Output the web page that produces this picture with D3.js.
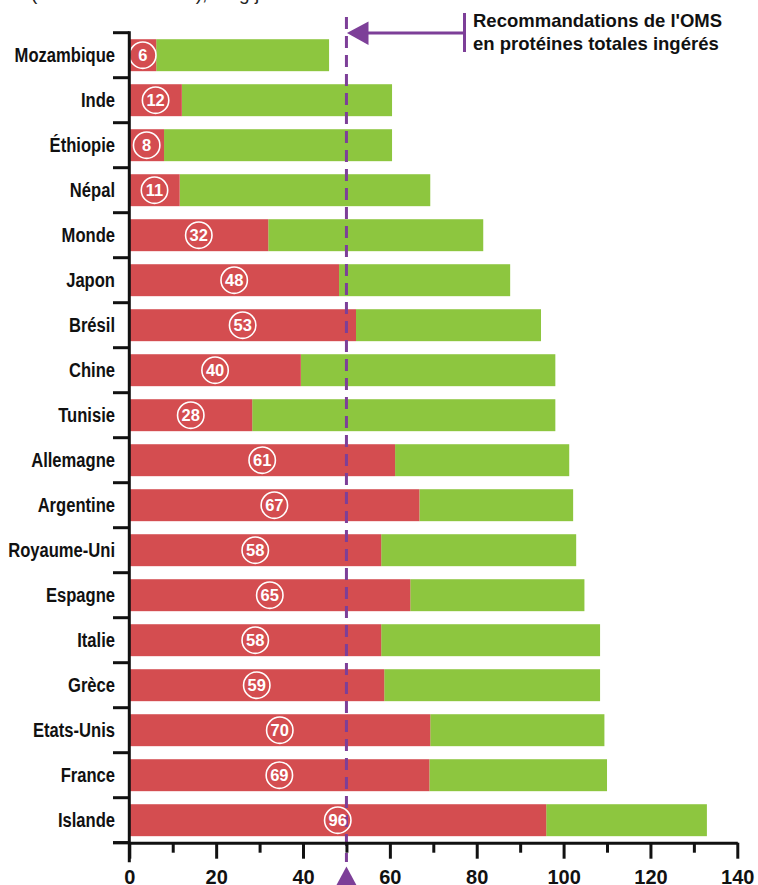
<!DOCTYPE html>
<html>
<head>
<meta charset="utf-8">
<script src="https://cdn.jsdelivr.net/npm/d3@7"></script>
<style>
  html, body { margin: 0; padding: 0; background: #ffffff; }
  svg { display: block; overflow: hidden; }
</style>
</head>
<body>
<svg id="chart" width="758" height="885"></svg>
<script>
const categories = ["Mozambique","Inde","Éthiopie","Népal","Monde","Japon","Brésil","Chine","Tunisie","Allemagne","Argentine","Royaume-Uni","Espagne","Italie","Grèce","Etats-Unis","France","Islande"];
const animalValues = [6.2, 12.1, 8, 11.6, 32, 48.3, 52.2, 39.5, 28.3, 61.2, 66.8, 58, 64.7, 58, 58.7, 69.3, 69.1, 96];
const animalLabels = [6, 12, 8, 11, 32, 48, 53, 40, 28, 61, 67, 58, 65, 58, 59, 70, 69, 96];
const totalValues = [46, 60.5, 60.5, 69.3, 81.5, 87.7, 94.8, 98.1, 98.1, 101.3, 102.2, 102.9, 104.8, 108.4, 108.4, 109.4, 110, 133];
const majorTicks = [0, 20, 40, 60, 80, 100, 120, 140];
const minorTicks = [10, 30, 50, 70, 90, 110, 130];
const whoRecommendation = 50;
const annotationLines = ["Recommandations de l'OMS", "en protéines totales ingérés"];
const topText = "(animales et totales), en g/j";

const RED = "#d44d50", GREEN = "#8dc63f", PURPLE = "#7d3f98", INK = "#111111";
const FONT = "'Liberation Sans', Arial, sans-serif";

const svg = d3.select("#chart");

const x = d3.scaleLinear().domain([0, 140]).range([129.3, 737.3]);
const y = d3.scaleBand().domain(categories).range([32.7, 842.7]).paddingInner(0.29).paddingOuter(0.145);
const step = y.step();
const yTop = y.range()[0];
const axisY = y.range()[1];

// top text, cut off by the top edge as in the reference
svg.append("text").attr("x", 31).attr("y", -0.5)
  .attr("font-family", FONT).attr("font-size", 19).attr("fill", "#222")
  .text(topText);

const data = categories.map((c, i) => ({ c, a: animalValues[i], t: totalValues[i], lab: animalLabels[i] }));

// bars
const bars = svg.append("g");
bars.selectAll("rect.green").data(data).join("rect").attr("class", "green")
  .attr("x", d => x(d.a)).attr("y", d => y(d.c))
  .attr("width", d => x(d.t) - x(d.a)).attr("height", y.bandwidth())
  .attr("fill", GREEN);
bars.selectAll("rect.red").data(data).join("rect").attr("class", "red")
  .attr("x", x(0)).attr("y", d => y(d.c))
  .attr("width", d => x(d.a) - x(0)).attr("height", y.bandwidth())
  .attr("fill", RED);

// WHO dashed line
svg.append("line")
  .attr("x1", x(whoRecommendation)).attr("x2", x(whoRecommendation))
  .attr("y1", 17).attr("y2", 862)
  .attr("stroke", PURPLE).attr("stroke-width", 3)
  .attr("stroke-dasharray", "12,7");

// value circles
const lbl = svg.append("g").selectAll("g").data(data).join("g")
  .attr("transform", d => `translate(${x(d.a / 2)},${y(d.c) + y.bandwidth() / 2})`);
lbl.append("circle").attr("r", 13.2).attr("fill", "none")
  .attr("stroke", "#ffffff").attr("stroke-width", 1.6);
lbl.append("text").attr("text-anchor", "middle").attr("dy", "0.36em")
  .attr("font-family", FONT).attr("font-weight", "bold").attr("font-size", 16.5)
  .attr("fill", "#ffffff")
  .text(d => d.lab);

// X axis: major ticks
const xAxisMajor = d3.axisBottom(x).tickValues(majorTicks).tickSize(16).tickSizeOuter(0).tickFormat(d3.format("d"));
const gx = svg.append("g").attr("transform", `translate(0,${axisY})`).call(xAxisMajor);
gx.select(".domain").attr("stroke", INK).attr("stroke-width", 3);
gx.selectAll(".tick line").attr("stroke", INK).attr("stroke-width", 3);
gx.selectAll(".tick text").attr("y", 41.8).attr("dy", "0")
  .attr("font-family", FONT).attr("font-weight", "bold").attr("font-size", 20).attr("fill", INK);

// X axis: minor ticks
const xAxisMinor = d3.axisBottom(x).tickValues(minorTicks).tickSize(10).tickSizeOuter(0).tickFormat("");
const gxm = svg.append("g").attr("transform", `translate(0,${axisY})`).call(xAxisMinor);
gxm.select(".domain").remove();
gxm.selectAll(".tick line").attr("stroke", INK).attr("stroke-width", 3);

// extend axis line to the left
svg.append("line").attr("x1", 113).attr("x2", x(0)).attr("y1", axisY).attr("y2", axisY)
  .attr("stroke", INK).attr("stroke-width", 3);

// Y axis line
svg.append("line").attr("x1", x(0)).attr("x2", x(0)).attr("y1", yTop - 1.5).attr("y2", axisY + 19.5)
  .attr("stroke", INK).attr("stroke-width", 3);

// Y ticks at band boundaries
const boundaries = d3.range(categories.length + 1).map(i => yTop + i * step);
svg.append("g").selectAll("line").data(boundaries).join("line")
  .attr("x1", 113).attr("x2", x(0)).attr("y1", d => d).attr("y2", d => d)
  .attr("stroke", INK).attr("stroke-width", 3);

// category labels (condensed)
svg.append("g").selectAll("g").data(categories).join("g")
  .attr("transform", d => `translate(115,${y(d) + y.bandwidth() / 2 + 6.8}) scale(0.79,1)`)
  .append("text").attr("text-anchor", "end")
  .attr("font-family", FONT).attr("font-weight", "bold").attr("font-size", 21).attr("fill", INK)
  .text(d => d);

// bottom triangle marker
const tx = x(whoRecommendation);
svg.append("path")
  .attr("d", `M${tx},866.5 L${tx + 11},887 L${tx - 11},887 Z`)
  .attr("fill", PURPLE);

// annotation arrow
svg.append("line").attr("x1", 366).attr("x2", 464.5).attr("y1", 33).attr("y2", 33)
  .attr("stroke", PURPLE).attr("stroke-width", 3);
svg.append("path").attr("d", `M${tx + 0.5},33 L368.5,21.5 L368.5,45 Z`).attr("fill", PURPLE);
svg.append("line").attr("x1", 464.5).attr("x2", 464.5).attr("y1", 13).attr("y2", 52)
  .attr("stroke", PURPLE).attr("stroke-width", 3);

svg.append("g").selectAll("text").data(annotationLines).join("text")
  .attr("x", 473).attr("y", (d, i) => 27 + i * 23)
  .attr("font-family", FONT).attr("font-weight", "bold").attr("font-size", 18.5).attr("fill", INK)
  .text(d => d);
</script>
</body>
</html>
